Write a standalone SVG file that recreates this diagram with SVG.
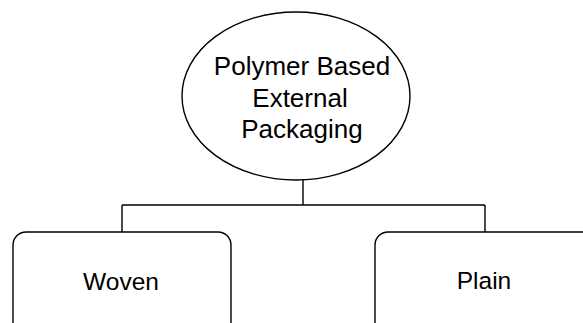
<svg xmlns="http://www.w3.org/2000/svg" width="583" height="323" viewBox="0 0 583 323">
<style>
.shape{fill:#fff;stroke:#000;stroke-width:1.4}
.conn{fill:none;stroke:#000;stroke-width:1.4}
.t{font-family:"Liberation Sans",Arial,sans-serif;fill:#000;text-anchor:middle}
</style>
<rect width="583" height="323" fill="#fff"/>
<g id="connectors">
<path class="conn" d="M303 180 V205 M122 205 H485 M122 205 V232 M485 205 V232"/>
</g>
<g id="root">
<ellipse class="shape" cx="296" cy="96" rx="114" ry="84"/>
<text class="t" x="302" y="75" font-size="26">Polymer Based</text>
<text class="t" x="300" y="107" font-size="26">External</text>
<text class="t" x="302" y="138" font-size="26">Packaging</text>
</g>
<g id="woven">
<rect class="shape" x="13" y="232" width="218" height="110" rx="13"/>
<text class="t" x="121" y="290" font-size="24.5">Woven</text>
</g>
<g id="plain">
<rect class="shape" x="375" y="232" width="230" height="110" rx="13"/>
<text class="t" x="484" y="289" font-size="24.5">Plain</text>
</g>
</svg>
